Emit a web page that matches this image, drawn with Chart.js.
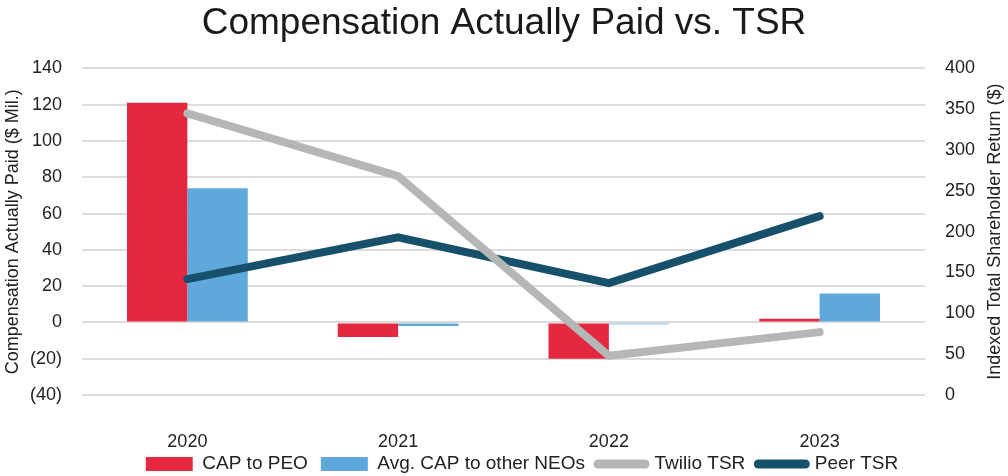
<!DOCTYPE html>
<html>
<head>
<meta charset="utf-8">
<title>Compensation Actually Paid vs. TSR</title>
<script src="https://cdn.jsdelivr.net/npm/chart.js@4/dist/chart.umd.min.js"></script>
<style>
    html, body { margin: 0; padding: 0; background: #fff; }
    #wrap { width: 1008px; height: 476px; position: relative; }
</style>
</head>
<body>
<div id="wrap"><canvas id="cap-chart"></canvas></div>
<script>
    "use strict";

    // Chart data
    const years = ["2020", "2021", "2022", "2023"];
    const capToPeo = [121, -8, -20, 2];
    const capToNeos = [74, -2, -1, 16];
    const twilioTsr = [345, 268, 48, 77];
    const peerTsr = [142, 193, 137, 219];

    const fontFamily = "'Liberation Sans', Arial, Helvetica, sans-serif";
    const textColor = "#222222";
    const rightTitle = "Indexed Total Shareholder Return ($)";

    // Right axis title reads bottom-to-top in the original, draw it like the left one
    const rightTitlePlugin = {
        id: "rightTitle",
        afterDraw: function (chart) {
            const c = chart.ctx;
            const area = chart.chartArea;
            c.save();
            c.translate(995, (area.top + area.bottom) / 2);
            c.rotate(-Math.PI / 2);
            c.fillStyle = textColor;
            c.font = "18px " + fontFamily;
            c.textAlign = "center";
            c.textBaseline = "middle";
            c.fillText(rightTitle, 0, 0);
            c.restore();
        }
    };

    // Pull the legend up under the year labels (and a bit right, like the original)
    const legendNudge = {
        id: "legendNudge",
        afterLayout: function (chart) {
            if (chart.legend) {
                chart.legend.top -= 10.5;
                chart.legend.bottom -= 10.5;
                chart.legend.left += 18;
                chart.legend.right += 18;
            }
        }
    };

    const ctx = document.getElementById("cap-chart").getContext("2d");
    const capChart = new Chart(ctx, {
        data: {
            labels: years,
            datasets: [{
                type: "bar",
                label: "CAP to PEO",
                data: capToPeo,
                backgroundColor: "#e4283f",
                yAxisID: "y",
                order: 1
            },
                {
                    type: "bar",
                    label: "Avg. CAP to other NEOs",
                    data: capToNeos,
                    backgroundColor: "#5fa8dc",
                    yAxisID: "y",
                    order: 1
                },
                {
                    type: "line",
                    label: "Twilio TSR",
                    data: twilioTsr,
                    borderColor: "#b5b6b6",
                    backgroundColor: "#b5b6b6",
                    borderWidth: 8,
                    borderCapStyle: "round",
                    pointRadius: 0,
                    yAxisID: "y1",
                    order: 0
                },
                {
                    type: "line",
                    label: "Peer TSR",
                    data: peerTsr,
                    borderColor: "#16506b",
                    backgroundColor: "#16506b",
                    borderWidth: 8,
                    borderCapStyle: "round",
                    pointRadius: 0,
                    yAxisID: "y1",
                    order: 0
                }
            ]
        },
        plugins: [rightTitlePlugin, legendNudge],
        options: {
            responsive: true,
            maintainAspectRatio: false,
            animation: false,
            layout: {padding: {left: 0, right: 0, top: 0, bottom: -18}},
            datasets: {
                bar: {categoryPercentage: 0.573, barPercentage: 1.0}
            },
            plugins: {
                tooltip: {enabled: false},
                title: {
                    display: true,
                    text: "Compensation Actually Paid vs. TSR",
                    color: "#1a1a1a",
                    font: {family: fontFamily, size: 37, weight: "normal"},
                    padding: {top: 2, bottom: 22}
                },
                legend: {
                    position: "bottom",
                    labels: {
                        usePointStyle: true,
                        pointStyleWidth: 47,
                        boxHeight: 14,
                        padding: 13,
                        color: textColor,
                        font: {family: fontFamily, size: 19},
                        generateLabels: function (chart) {
                            return chart.data.datasets.map(function (ds, i) {
                                const isLine = ds.type === "line";
                                return {
                                    text: ds.label,
                                    datasetIndex: i,
                                    fillStyle: isLine ? ds.borderColor : ds.backgroundColor,
                                    strokeStyle: isLine ? ds.borderColor : ds.backgroundColor,
                                    lineWidth: isLine ? 9 : 0,
                                    lineCap: "round",
                                    pointStyle: isLine ? "line" : "rect",
                                    fontColor: textColor,
                                    hidden: false
                                };
                            });
                        }
                    }
                }
            },
            scales: {
                x: {
                    grid: {display: false},
                    border: {display: false},
                    ticks: {
                        padding: 30,
                        color: textColor,
                        font: {family: fontFamily, size: 18, lineHeight: 1}
                    },
                    afterFit: function (scale) {
                        scale.height = 57;
                    }
                },
                y: {
                    position: "left",
                    min: -40,
                    max: 140,
                    grid: {color: "#dcdcdc", lineWidth: 2, drawTicks: false},
                    border: {display: false},
                    ticks: {
                        stepSize: 20,
                        padding: 20,
                        color: textColor,
                        font: {family: fontFamily, size: 18},
                        callback: function (value) {
                            return value < 0 ? "(" + Math.abs(value) + ")" : value;
                        }
                    },
                    title: {
                        display: true,
                        text: "Compensation Actually Paid ($ Mil.)",
                        color: textColor,
                        font: {family: fontFamily, size: 18},
                        padding: {top: 2, bottom: 0}
                    },
                    afterFit: function (scale) {
                        scale.width = 82;
                    }
                },
                y1: {
                    position: "right",
                    min: 0,
                    max: 400,
                    grid: {display: false, drawTicks: false},
                    border: {display: false},
                    ticks: {
                        stepSize: 50,
                        padding: 20,
                        color: textColor,
                        font: {family: fontFamily, size: 18}
                    },
                    afterFit: function (scale) {
                        scale.width = 83;
                    }
                }
            }
        }
    });
</script>
</body>
</html>
